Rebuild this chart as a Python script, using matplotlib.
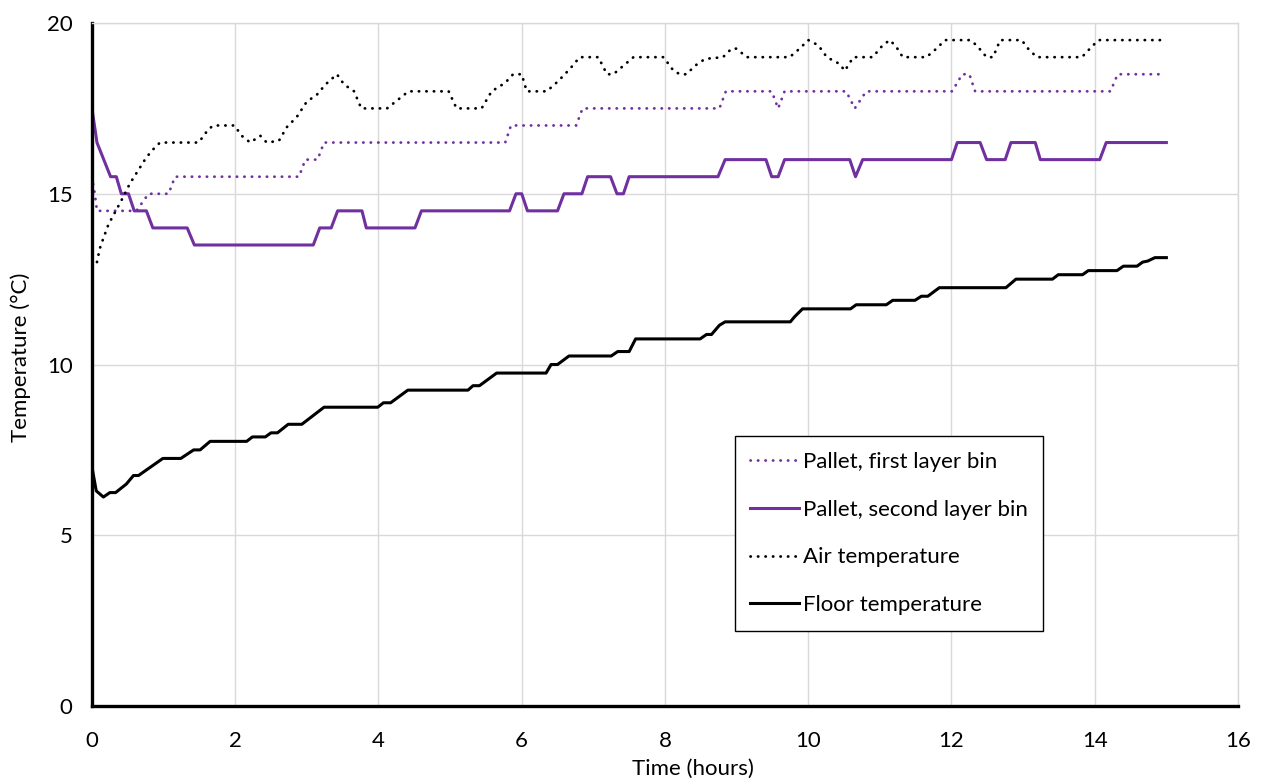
import matplotlib
matplotlib.use("Agg")
import matplotlib.pyplot as plt

plt.rcParams["font.family"] = ["Lato", "DejaVu Sans"]

# ── data (hours, degrees C) ─────────────────────────────────────
first_t = [0, 0.04, 0.07, 0.62, 0.79, 1.07, 1.16, 2.89, 2.98, 3.15,
           3.24, 5.77, 5.85, 6.76, 6.85, 8.76, 8.85, 9.49, 9.58, 9.67,
           10.53, 10.65, 10.81, 12.01, 12.15, 12.25, 12.33, 14.22, 14.32, 14.98]
first_T = [15.5, 15.0, 14.5, 14.5, 15.0, 15.0, 15.5, 15.5, 16.0, 16.0,
           16.5, 16.5, 17.0, 17.0, 17.5, 17.5, 18.0, 18.0, 17.5, 18.0,
           18.0, 17.5, 18.0, 18.0, 18.5, 18.5, 18.0, 18.0, 18.5, 18.5]

second_t = [0, 0.07, 0.26, 0.34, 0.41, 0.51, 0.59, 0.76, 0.85, 1.33,
            1.43, 3.09, 3.18, 3.34, 3.43, 3.77, 3.83, 4.51, 4.60, 5.83,
            5.92, 6.0, 6.08, 6.5, 6.59, 6.84, 6.92, 7.24, 7.33, 7.42,
            7.50, 8.74, 8.84, 9.41, 9.49, 9.58, 9.67, 10.58, 10.66, 10.76,
            12.0, 12.08, 12.40, 12.49, 12.75, 12.83, 13.17, 13.24, 14.07, 14.16,
            15.0]
second_T = [17.5, 16.5, 15.5, 15.5, 15.0, 15.0, 14.5, 14.5, 14.0, 14.0,
            13.5, 13.5, 14.0, 14.0, 14.5, 14.5, 14.0, 14.0, 14.5, 14.5,
            15.0, 15.0, 14.5, 14.5, 15.0, 15.0, 15.5, 15.5, 15.0, 15.0,
            15.5, 15.5, 16.0, 16.0, 15.5, 15.5, 16.0, 16.0, 15.5, 16.0,
            16.0, 16.5, 16.5, 16.0, 16.0, 16.5, 16.5, 16.0, 16.0, 16.5,
            16.5]

air_t = [0.07, 0.11, 0.16, 0.23, 0.32, 0.41, 0.53, 0.62, 0.74, 0.83,
         0.95, 1.49, 1.63, 1.70, 1.99, 2.09, 2.21, 2.35, 2.44, 2.61,
         2.72, 2.86, 3.0, 3.14, 3.26, 3.42, 3.52, 3.66, 3.76, 4.12,
         4.24, 4.42, 4.98, 5.09, 5.44, 5.58, 5.77, 5.88, 6.0, 6.07,
         6.35, 6.51, 6.67, 6.81, 7.07, 7.19, 7.28, 7.42, 7.56, 7.98,
         8.12, 8.21, 8.30, 8.42, 8.56, 8.81, 8.93, 9.0, 9.14, 9.74,
         9.88, 10.0, 10.14, 10.26, 10.44, 10.51, 10.63, 10.90, 11.04, 11.14,
         11.23, 11.32, 11.65, 11.79, 11.91, 12.26, 12.35, 12.49, 12.58, 12.68,
         12.98, 13.07, 13.19, 13.82, 13.91, 14.05, 14.98]
air_T = [13.0, 13.4, 13.7, 14.1, 14.45, 14.8, 15.3, 15.6, 16.0, 16.25,
         16.5, 16.5, 16.9, 17.0, 17.0, 16.7, 16.5, 16.7, 16.5, 16.55,
         16.95, 17.25, 17.7, 17.9, 18.2, 18.5, 18.2, 18.0, 17.5, 17.5,
         17.7, 18.0, 18.0, 17.5, 17.5, 18.0, 18.25, 18.5, 18.5, 18.0,
         18.0, 18.3, 18.65, 19.0, 19.0, 18.5, 18.5, 18.75, 19.0, 19.0,
         18.6, 18.5, 18.5, 18.75, 18.95, 19.0, 19.25, 19.25, 19.0, 19.0,
         19.25, 19.5, 19.35, 19.0, 18.8, 18.6, 19.0, 19.0, 19.35, 19.5,
         19.3, 19.0, 19.0, 19.25, 19.5, 19.5, 19.35, 19.0, 19.0, 19.5,
         19.5, 19.25, 19.0, 19.0, 19.2, 19.5, 19.5]

floor_t = [0, 0.06, 0.16, 0.25, 0.33, 0.48, 0.58, 0.65, 0.99, 1.24,
           1.42, 1.51, 1.65, 2.16, 2.24, 2.42, 2.50, 2.59, 2.74, 2.93,
           3.24, 3.99, 4.07, 4.17, 4.41, 5.25, 5.32, 5.41, 5.65, 6.34,
           6.41, 6.50, 6.66, 7.25, 7.34, 7.50, 7.59, 8.49, 8.58, 8.65,
           8.76, 8.84, 9.75, 9.81, 9.92, 10.59, 10.67, 11.09, 11.18, 11.49,
           11.58, 11.67, 11.83, 12.76, 12.90, 13.41, 13.49, 13.83, 13.91, 14.31,
           14.40, 14.59, 14.67, 14.74, 14.84, 15.0]
floor_T = [7.0, 6.3, 6.12, 6.25, 6.25, 6.5, 6.75, 6.75, 7.25, 7.25,
           7.5, 7.5, 7.75, 7.75, 7.88, 7.88, 8.0, 8.0, 8.25, 8.25,
           8.75, 8.75, 8.88, 8.88, 9.25, 9.25, 9.38, 9.38, 9.75, 9.75,
           10.0, 10.0, 10.25, 10.25, 10.38, 10.38, 10.75, 10.75, 10.88, 10.88,
           11.15, 11.25, 11.25, 11.4, 11.63, 11.63, 11.75, 11.75, 11.88, 11.88,
           12.0, 12.0, 12.25, 12.25, 12.5, 12.5, 12.63, 12.63, 12.75, 12.75,
           12.88, 12.88, 13.0, 13.03, 13.13, 13.13]

labels = ["Pallet, first layer bin", "Pallet, second layer bin",
          "Air temperature", "Floor temperature"]
x_ticks = list(range(0, 17, 2))
y_ticks = [0, 5, 10, 15, 20]

PURPLE = "#7030A0"
GRID = "#D9D9D9"
DOT = (0, (0.1, 2.6))

fig = plt.figure(figsize=(12.63, 7.83), dpi=100)
ax = fig.add_axes([0.0728, 0.0983, 0.9074, 0.8723])

ax.plot(first_t, first_T, color=PURPLE, lw=2.0, linestyle=DOT,
        dash_capstyle="round", label=labels[0])
ax.plot(second_t, second_T, color=PURPLE, lw=2.2, label=labels[1])
ax.plot(air_t, air_T, color="black", lw=2.0, linestyle=DOT,
        dash_capstyle="round", label=labels[2])
ax.plot(floor_t, floor_T, color="black", lw=2.2, label=labels[3])

ax.set_xlim(0, 16)
ax.set_ylim(0, 20)
ax.set_xticks(x_ticks)
ax.set_yticks(y_ticks)
ax.grid(True, color=GRID, lw=1)
ax.set_axisbelow(True)
ax.tick_params(axis="both", length=0, labelsize=16)
ax.tick_params(axis="x", pad=18)
ax.tick_params(axis="y", pad=14)

for side in ["top", "right"]:
    ax.spines[side].set_color(GRID)
    ax.spines[side].set_linewidth(1)
for side in ["left", "bottom"]:
    ax.spines[side].set_color("black")
    ax.spines[side].set_linewidth(2.4)

ax.set_xlabel("Time (hours)", fontsize=16, labelpad=2)
ax.xaxis.set_label_coords(0.524, -0.078)
ax.set_ylabel("Temperature (°C)", fontsize=16)
ax.yaxis.set_label_coords(-0.053, 0.51)

leg = ax.legend(loc="upper left", bbox_to_anchor=(0.561, 0.395), fontsize=16,
                frameon=True, fancybox=False, framealpha=1, edgecolor="black",
                handlelength=2.2, handletextpad=0.15, labelspacing=1.25,
                borderpad=0.7, borderaxespad=0)
leg.get_frame().set_linewidth(1)

fig.savefig("out.png", dpi=100)
